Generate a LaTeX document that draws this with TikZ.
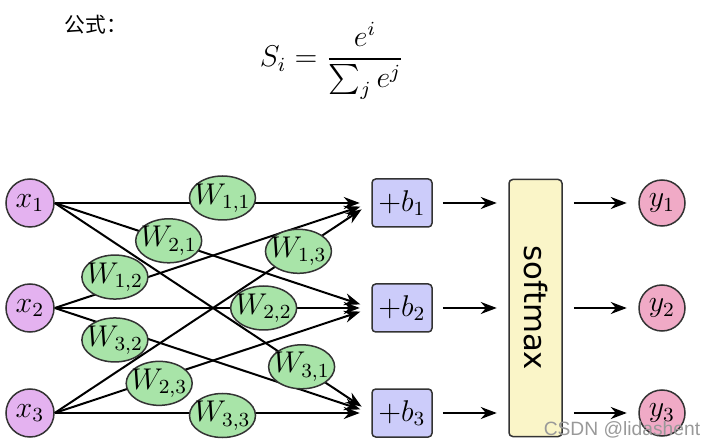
\documentclass[tikz,border=0pt]{standalone}
\usepackage{amsmath}
\usepackage{fontspec}
\usepackage{xcolor}
\usepackage{tikz}
\usetikzlibrary{positioning,arrows.meta,shapes.geometric}
\newfontfamily\cjkfont{Noto Sans CJK SC}
\newfontfamily\softfont{DejaVu Sans}
\newfontfamily\markfont{Liberation Sans}
\definecolor{xfill}{RGB}{228,178,240}
\definecolor{yfill}{RGB}{240,170,198}
\definecolor{bfill}{RGB}{204,204,250}
\definecolor{sfill}{RGB}{250,245,200}
\definecolor{wfill}{RGB}{168,228,168}

\begin{document}
\begin{tikzpicture}[
  on grid,
  node distance=42pt,
  xin/.style={circle,draw=black!80,line width=0.6pt,fill=xfill,minimum size=19.2pt,
  inner sep=0pt,font=\large},
  yout/.style={circle,draw=black!80,line width=0.6pt,fill=yfill,minimum size=18.4pt,
  inner sep=0pt,font=\large},
  bias/.style={draw=black!80,line width=0.6pt,rounded corners=1.5pt,fill=bfill,
  minimum width=24pt,minimum height=19.2pt,inner sep=0pt,font=\large},
  soft/.style={draw=black!80,line width=0.6pt,rounded corners=1.5pt,fill=sfill,
  minimum width=21.2pt,minimum height=102.8pt,inner sep=0pt,
  font=\softfont\fontsize{12.3}{14}\selectfont},
  wt/.style={ellipse,draw=black!80,line width=0.6pt,fill=wfill,minimum width=26.4pt,
  minimum height=17.6pt,inner sep=-3pt,font=\large},
  arr/.style={-{Stealth[length=6.4pt,width=4.8pt]},line width=0.8pt,shorten >=4.6pt}
]
\useasboundingbox (0,0) rectangle (286.4pt,-178.8pt);
\node[font=\cjkfont\fontsize{8.3}{10}\selectfont] (title) at (38.4pt,-9.8pt) {公式：};
\node[font=\large] (eq) at (132.8pt,-24.4pt) {$\displaystyle S_i=\frac{e^i}{\sum_j e^j}$};

\node[xin] (x1) at (12pt,-81.2pt) {$x_1$};
\node[xin,below=of x1] (x2) {$x_2$};
\node[xin,below=of x2] (x3) {$x_3$};
\node[bias,right=148.8pt of x1] (b1) {$+b_1$};
\node[bias,below=of b1] (b2) {$+b_2$};
\node[bias,below=of b2] (b3) {$+b_3$};
\node[soft,right=53.4pt of b2] (sm) {\rotatebox{-90}{softmax}};
\node[yout,right=50.6pt of sm] (y2) {$y_2$};
\node[yout,above=of y2] (y1) {$y_1$};
\node[yout,below=of y2] (y3) {$y_3$};

\draw[arr] (x2.east) -- node[wt,pos=.19,yshift=4.4pt] (w12) {$W_{1,2}$} (b1.west);
\draw[arr] (x2.east) -- node[wt,pos=.66] (w22) {$W_{2,2}$} (b2.west);
\draw[arr] (x2.east) -- node[wt,pos=.19,yshift=-4.8pt] (w32) {$W_{3,2}$} (b3.west);
\draw[arr] (x1.east) -- node[wt,pos=.53,yshift=2pt] (w11) {$W_{1,1}$} (b1.west);
\draw[arr] (x1.east) -- node[wt,pos=.36] (w21) {$W_{2,1}$} (b2.west);
\draw[arr] (x1.east) -- node[wt,pos=.78] (w31) {$W_{3,1}$} (b3.west);
\draw[arr] (x3.east) -- node[wt,pos=.77] (w13) {$W_{1,3}$} (b1.west);
\draw[arr] (x3.east) -- node[wt,pos=.33,yshift=-2pt] (w23) {$W_{2,3}$} (b2.west);
\draw[arr] (x3.east) -- node[wt,pos=.53,yshift=-1pt] (w33) {$W_{3,3}$} (b3.west);

\draw[arr,shorten <=4pt] (b1) -- (sm.west |- b1);
\draw[arr,shorten <=4pt] (b2) -- (sm.west |- b2);
\draw[arr,shorten <=4pt] (b3) -- (sm.west |- b3);
\draw[arr,shorten <=4.4pt] (sm.east |- y1) -- (y1);
\draw[arr,shorten <=4.4pt] (sm.east |- y2) -- (y2);
\draw[arr,shorten <=4.4pt] (sm.east |- y3) -- (y3);

\node[font=\markfont\fontsize{7.7}{9}\selectfont,text=black!40] (mark) at (248.8pt,-172pt)
  {CSDN @lidashent};
\end{tikzpicture}
\end{document}
